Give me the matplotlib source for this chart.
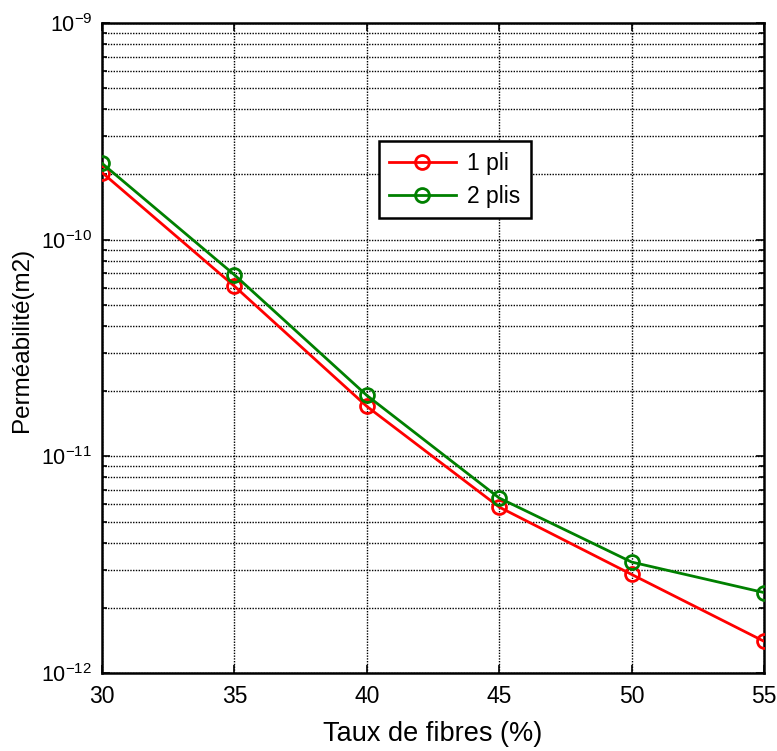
import matplotlib
matplotlib.use("Agg")
import matplotlib.pyplot as plt
from matplotlib.ticker import LogLocator, FixedLocator, NullFormatter

plt.rcParams['font.family'] = ['Liberation Sans', 'DejaVu Sans']
plt.rcParams['mathtext.fontset'] = 'custom'
plt.rcParams['mathtext.rm'] = 'Liberation Sans'
plt.rcParams['mathtext.it'] = 'Liberation Sans'
plt.rcParams['axes.unicode_minus'] = False

taux = [30, 35, 40, 45, 50, 55]
perm_1pli = [2.04e-10, 6.1e-11, 1.70e-11, 5.83e-12, 2.85e-12, 1.40e-12]
perm_2plis = [2.25e-10, 6.88e-11, 1.91e-11, 6.42e-12, 3.25e-12, 2.35e-12]
x_ticks = [30, 35, 40, 45, 50, 55]
labels = ['1 pli', '2 plis']

fig = plt.figure(figsize=(7.77, 7.51), dpi=100)
ax = fig.add_axes([0.1313, 0.1039, 0.8520, 0.8655])

ax.plot(taux, perm_1pli, color='#ff0000', lw=2.0, marker='o', ms=10,
        mfc='none', mec='#ff0000', mew=2.0, label=labels[0], zorder=3)
ax.plot(taux, perm_2plis, color='#008000', lw=2.0, marker='o', ms=10,
        mfc='none', mec='#008000', mew=2.0, label=labels[1], zorder=3)

ax.set_yscale('log')
ax.set_xlim(30, 55)
ax.set_ylim(1e-12, 1e-9)
ax.xaxis.set_major_locator(FixedLocator(x_ticks))
ax.yaxis.set_major_locator(LogLocator(base=10, numticks=10))
ax.yaxis.set_minor_locator(LogLocator(base=10, subs=range(2, 10), numticks=10))
ax.yaxis.set_minor_formatter(NullFormatter())

ax.grid(True, which='major', axis='both', color='black', linestyle=(0, (1, 1)), linewidth=1.0)
ax.grid(True, which='minor', axis='y', color='black', linestyle=(0, (1, 1)), linewidth=1.0)
ax.set_axisbelow(True)

ax.tick_params(which='both', direction='in', top=True, right=True,
               width=1.2, pad=9)
ax.tick_params(axis='x', labelsize=16.5)
ax.tick_params(axis='y', labelsize=15.5, pad=7)
ax.tick_params(which='major', length=6)
ax.tick_params(which='minor', length=3.5)
for s in ax.spines.values():
    s.set_linewidth(1.8)

ax.set_xlabel('Taux de fibres (%)', fontsize=19.5, labelpad=9)
ax.set_ylabel('Perméabilité(m2)', fontsize=17.5)
ax.yaxis.set_label_coords(-0.104, 0.512)

leg = ax.legend(loc='upper left', bbox_to_anchor=(0.418, 0.818), fontsize=16.5,
                frameon=True, fancybox=False, shadow=False, framealpha=1,
                edgecolor='black', handlelength=2.9, borderpad=0.45,
                labelspacing=0.45, handletextpad=0.5, borderaxespad=0)
leg.get_frame().set_linewidth(1.8)

fig.savefig('out.png', dpi=100)
